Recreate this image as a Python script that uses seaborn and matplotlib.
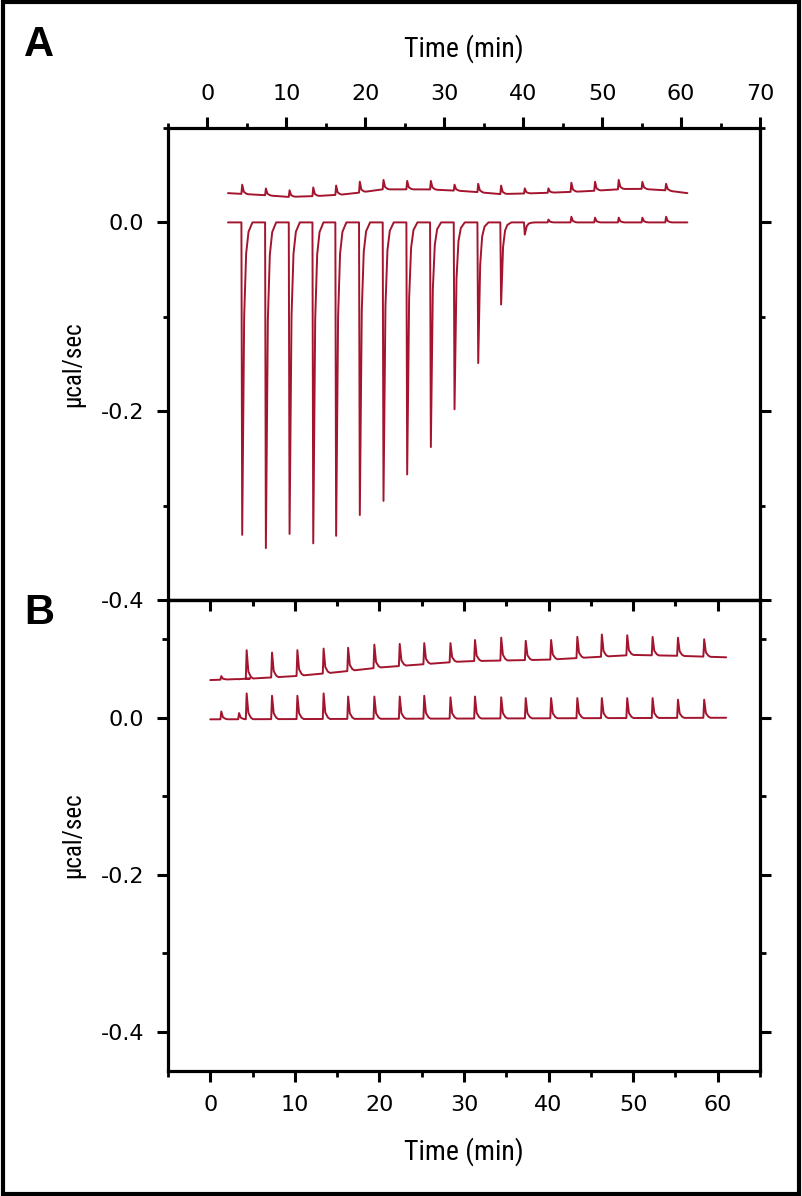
import numpy as np
import matplotlib
matplotlib.use("Agg")
import matplotlib.pyplot as plt
from matplotlib import font_manager
from matplotlib.ticker import MultipleLocator, FormatStrFormatter
from matplotlib.patches import Rectangle
import seaborn as sns

# ITC raw thermograms (µcal/sec vs time in min)

# Panel A: injection times and peak values
a_inj_t = [4.3, 7.3, 10.3, 13.3, 16.2, 19.2, 22.2, 25.2, 28.2, 31.2,
           34.2, 37.1, 40.1, 43.1, 46.0, 49.0, 52.0, 55.0, 58.0]
a_upper_peak = [0.040, 0.036, 0.034, 0.037, 0.039, 0.043, 0.045, 0.044, 0.044, 0.040,
                0.041, 0.039, 0.036, 0.036, 0.042, 0.043, 0.045, 0.043, 0.041]
a_lower_peak = [-0.331, -0.345, -0.330, -0.340, -0.332, -0.310, -0.295, -0.267, -0.238, -0.198,
                -0.149, -0.087, -0.013, 0.003, 0.006, 0.005, 0.005, 0.005, 0.006]
a_upper_base_t = [2.6, 7.0, 10.3, 14.0, 18.0, 22.0, 28.0, 33.0, 37.0, 42.0, 48.0, 54.0, 58.0, 60.8]
a_upper_base_v = [0.031, 0.029, 0.027, 0.028, 0.030, 0.035, 0.035, 0.033, 0.030, 0.031,
                  0.033, 0.036, 0.034, 0.031]
a_lower_base_t = [2.6, 60.8]
a_lower_base_v = [0.0, 0.0]

# Panel B
b_inj_t = [1.2, 3.3, 4.2, 7.2, 10.2, 13.3, 16.2, 19.3, 22.3, 25.2, 28.3,
           31.2, 34.3, 37.2, 40.2, 43.3, 46.2, 49.2, 52.2, 55.2, 58.3]
b_upper_peak = [0.053, 0.049, 0.086, 0.083, 0.086, 0.088, 0.089, 0.093, 0.094, 0.095, 0.095,
                0.099, 0.102, 0.098, 0.099, 0.103, 0.106, 0.105, 0.103, 0.102, 0.100]
b_lower_peak = [0.008, 0.006, 0.031, 0.028, 0.028, 0.031, 0.027, 0.027, 0.027, 0.028, 0.026,
                0.027, 0.026, 0.025, 0.025, 0.025, 0.025, 0.025, 0.025, 0.023, 0.023]
b_upper_base_t = [0.0, 5.0, 10.0, 15.0, 20.0, 25.0, 30.0, 35.0, 40.0, 45.0, 50.0, 55.0, 61.0]
b_upper_base_v = [0.048, 0.050, 0.053, 0.058, 0.064, 0.068, 0.072, 0.073, 0.074,
                  0.077, 0.080, 0.079, 0.077]
b_lower_base_t = [0.0, 61.0]
b_lower_base_v = [-0.002, 0.0]

# spike outline (time offset in min, fraction of peak)
dip_dt = [0.0, 0.1, 0.35, 0.6, 0.9, 1.4]
dip_frac = [0.0, 1.0, 0.3, 0.1, 0.03, 0.0]
spike_dt = [0.0, 0.1, 0.3, 0.6, 0.85]
spike_frac = [0.0, 1.0, 0.25, 0.06, 0.0]

red = "#A3142E"


def build_trace(t0, t1, base_t, base_v, inj_t, peaks):
    ts = [t0]
    vs = [np.interp(t0, base_t, base_v)]
    for t, p in zip(inj_t, peaks):
        b = np.interp(t, base_t, base_v)
        # downward injections use the dip outline, upward ones the spike outline
        if p < b:
            ddt, dfr = dip_dt, dip_frac
        else:
            ddt, dfr = spike_dt, spike_frac
        for d, f in zip(ddt, dfr):
            ts.append(t + d)
            vs.append(np.interp(t + d, base_t, base_v) + f * (p - b))
    ts.append(t1)
    vs.append(np.interp(t1, base_t, base_v))
    return np.array(ts), np.array(vs)


sns.set_theme(style="ticks")
plt.rcParams["font.family"] = ["DejaVu Sans"]
plt.rcParams["axes.unicode_minus"] = False
for k in ["text.color", "axes.labelcolor", "xtick.color", "ytick.color", "axes.edgecolor"]:
    plt.rcParams[k] = "black"

# condensed face for the axis titles, if one is installed
fonts = font_manager.fontManager.ttflist
names = {f.name for f in fonts}
label_font = {"family": "Liberation Sans"}
if "Liberation Sans Narrow" in names:
    label_font = {"family": "Liberation Sans Narrow"}
elif "Roboto Condensed" in names:
    label_font = {"family": "Roboto Condensed"}
elif any(f.name == "DejaVu Sans" and f.stretch == "condensed" for f in fonts):
    label_font = {"family": "DejaVu Sans", "fontstretch": "condensed"}

fig = plt.figure(figsize=(8.02, 11.96), dpi=100)
W, H = 802, 1196
axA = fig.add_axes([168 / W, 1 - 600 / H, 592 / W, 472 / H])
axB = fig.add_axes([168 / W, 1 - 1071 / H, 592 / W, 471 / H])

for ax in (axA, axB):
    for s in ax.spines.values():
        s.set_linewidth(2.3)
        s.set_color("black")
    ax.set_facecolor("white")
    ax.grid(False)

# --- panel A ---
t, v = build_trace(2.6, 60.8, a_upper_base_t, a_upper_base_v, a_inj_t, a_upper_peak)
sns.lineplot(x=t, y=v, ax=axA, color=red, lw=1.4, estimator=None, sort=False)
t, v = build_trace(2.6, 60.8, a_lower_base_t, a_lower_base_v, a_inj_t, a_lower_peak)
sns.lineplot(x=t, y=v, ax=axA, color=red, lw=1.4, estimator=None, sort=False)

axA.set_xlim(-5, 70)
axA.set_ylim(-0.4, 0.1)
axA.xaxis.tick_top()
axA.xaxis.set_label_position("top")
axA.xaxis.set_major_locator(MultipleLocator(10))
axA.xaxis.set_minor_locator(MultipleLocator(5))
axA.yaxis.set_major_locator(MultipleLocator(0.2))
axA.yaxis.set_minor_locator(MultipleLocator(0.1))
axA.yaxis.set_major_formatter(FormatStrFormatter("%.1f"))
axA.tick_params(axis="x", which="both", top=True, bottom=False, labeltop=True,
                labelbottom=False, direction="out")
axA.tick_params(axis="y", which="both", left=True, right=True, labelright=False, direction="out")
axA.tick_params(which="major", length=8, width=2.2, labelsize=16, pad=9)
axA.tick_params(which="minor", length=3.5, width=2.0)
axA.set_xlabel("Time (min)", fontsize=20, va="center", **label_font)
axA.xaxis.set_label_coords(0.5, 1.169)
axA.set_ylabel("µcal/sec", fontsize=18, va="center", **label_font)
axA.yaxis.set_label_coords(-0.160, 0.5)

# --- panel B ---
t, v = build_trace(0.0, 61.0, b_upper_base_t, b_upper_base_v, b_inj_t, b_upper_peak)
sns.lineplot(x=t, y=v, ax=axB, color=red, lw=1.4, estimator=None, sort=False)
t, v = build_trace(0.0, 61.0, b_lower_base_t, b_lower_base_v, b_inj_t, b_lower_peak)
sns.lineplot(x=t, y=v, ax=axB, color=red, lw=1.4, estimator=None, sort=False)

axB.set_xlim(-5, 65)
axB.set_ylim(-0.45, 0.15)
axB.xaxis.set_major_locator(MultipleLocator(10))
axB.xaxis.set_minor_locator(MultipleLocator(5))
axB.yaxis.set_major_locator(MultipleLocator(0.2))
axB.yaxis.set_minor_locator(MultipleLocator(0.1))
axB.yaxis.set_major_formatter(FormatStrFormatter("%.1f"))
axB.tick_params(axis="x", which="both", bottom=True, top=False, direction="out")
axB.tick_params(axis="y", which="both", left=True, right=True, labelright=False, direction="out")
axB.tick_params(which="major", length=8, width=2.2, labelsize=16, pad=9)
axB.tick_params(which="minor", length=4.5, width=2.0)
axB.set_xlabel("Time (min)", fontsize=20, va="center", **label_font)
axB.xaxis.set_label_coords(0.5, -0.172)
axB.set_ylabel("µcal/sec", fontsize=18, va="center", **label_font)
axB.yaxis.set_label_coords(-0.160, 0.5)

# inward ticks along the top of panel B
secB = axB.secondary_xaxis("top")
secB.xaxis.set_major_locator(MultipleLocator(10))
secB.xaxis.set_minor_locator(MultipleLocator(5))
secB.tick_params(which="both", direction="in", labeltop=False, width=2.2)
secB.tick_params(which="major", length=8)
secB.tick_params(which="minor", length=4)
secB.spines["top"].set_linewidth(2.3)

# panel letters and outer frame
fig.text(39 / W, 1 - 45 / H, "A", fontsize=30, weight="bold", family="Liberation Sans",
         ha="center", va="center")
fig.text(39 / W, 1 - 613 / H, "B", fontsize=30, weight="bold", family="Liberation Sans",
         ha="center", va="center")
fig.patches.append(Rectangle((3 / W, 2 / H), 796 / W, 1192 / H, transform=fig.transFigure,
                             fill=False, lw=3, edgecolor="black"))

fig.savefig("out.png", dpi=100, facecolor="white")
